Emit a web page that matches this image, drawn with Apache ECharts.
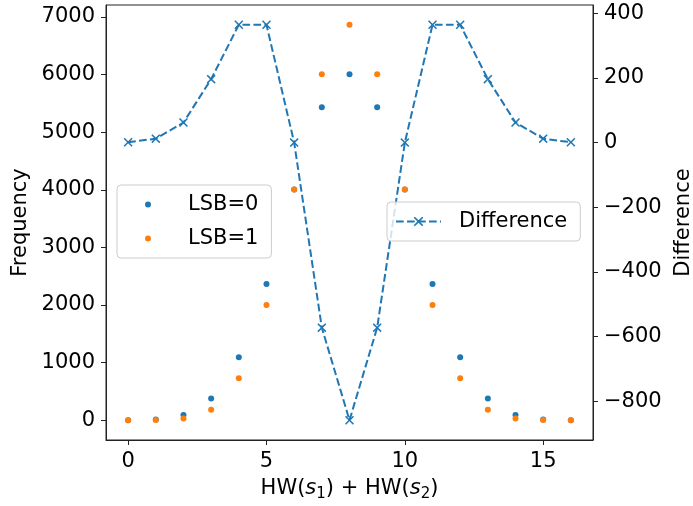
<!DOCTYPE html>
<html>
<head>
<meta charset="utf-8">
<script src="https://cdn.jsdelivr.net/npm/echarts@6.0.0/dist/echarts.min.js"></script>
<style>
  html, body { margin: 0; padding: 0; background: #fff; }
  #chart { width: 693px; height: 506px; }
</style>
</head>
<body>
<div id="chart"></div>
<script>
// HW(s1) + HW(s2)
const hwSum = [0, 1, 2, 3, 4, 5, 6, 7, 8, 9, 10, 11, 12, 13, 14, 15, 16]
const lsb0 = [1, 14, 91, 378, 1092, 2366, 4004, 5434, 6006, 5434, 4004, 2366, 1092, 378, 91, 14, 1]
const lsb1 = [0, 2, 29, 182, 728, 2002, 4004, 6006, 6864, 6006, 4004, 2002, 728, 182, 29, 2, 0]
const difference = [1, 12, 62, 196, 364, 364, 0, -572, -858, -572, 0, 364, 364, 196, 62, 12, 1]

const xTicks = [0, 5, 10, 15]
const freqTicks = [0, 1000, 2000, 3000, 4000, 5000, 6000, 7000]
const diffTicks = [-800, -600, -400, -200, 0, 200, 400]

const blue = '#1f77b4'
const orange = '#ff7f0e'
const ink = '#000'
const spine = '#222'
const font = 'DejaVu Sans'
const crossPath = 'path://M0,1.2L1.2,0L5,3.8L8.8,0L10,1.2L6.2,5L10,8.8L8.8,10L5,6.2L1.2,10L0,8.8L3.8,5Z'

function pairs(ys) {
  return hwSum.map((x, i) => [x, ys[i]])
}

function valueAxis(opts) {
  const ticks = opts.ticks
  return Object.assign({
    type: 'value',
    scale: true,
    axisLine: { show: true, onZero: false, lineStyle: { color: spine, width: 1 } },
    axisTick: { show: true, length: 5, customValues: ticks, lineStyle: { color: spine, width: 1 } },
    axisLabel: {
      customValues: ticks,
      margin: opts.margin,
      color: ink,
      fontFamily: font,
      fontSize: 21,
      formatter: v => String(v).replace('-', '\u2212')
    },
    splitLine: { show: false },
    nameTextStyle: { color: ink, fontFamily: font, fontSize: 21 }
  }, opts.extra)
}

// spacer token in front of the name pushes the text away from the icon
function legendBox(gap) {
  return {
    orient: 'vertical',
    backgroundColor: 'rgba(255,255,255,0.8)',
    borderColor: '#cccccc',
    borderWidth: 1,
    borderRadius: 4,
    formatter: name => '{g| }{t|' + name + '}',
    textStyle: {
      color: ink,
      fontFamily: font,
      fontSize: 21,
      rich: {
        g: { width: gap, fontSize: 21 },
        t: { color: ink, fontFamily: font, fontSize: 21 }
      }
    }
  }
}

const chart = echarts.init(document.getElementById('chart'), null, { renderer: 'canvas' })
chart.setOption({
  animation: false,
  backgroundColor: '#fff',
  grid: {
    left: 106,
    right: 100,
    top: 5,
    bottom: 66,
    show: true,
    borderColor: spine,
    borderWidth: 1,
    backgroundColor: 'transparent',
    outerBoundsMode: 'none'
  },
  legend: [
    Object.assign(legendBox(32), {
      data: ['LSB=0', 'LSB=1'],
      left: 117,
      top: 185,
      padding: [9, 13, 9, 28],
      itemWidth: 6,
      itemHeight: 6,
      itemGap: 13
    }),
    Object.assign(legendBox(13), {
      data: ['Difference'],
      left: 387,
      top: 202,
      padding: [9, 13, 9, 8],
      itemWidth: 45,
      itemHeight: 12
    })
  ],
  xAxis: valueAxis({
    ticks: xTicks,
    margin: 11,
    extra: {
      min: -0.8,
      max: 16.8,
      name: '{n|HW(}{i|s}{s|1}{n|) + HW(}{i|s}{s|2}{n|)}',
      nameLocation: 'middle',
      nameGap: 38,
      nameTextStyle: {
        color: ink,
        fontFamily: font,
        fontSize: 21,
        rich: {
          n: { fontFamily: font, fontSize: 21, color: ink, lineHeight: 24, verticalAlign: 'top' },
          i: { fontFamily: font, fontSize: 21, fontStyle: 'italic', color: ink, lineHeight: 24, verticalAlign: 'top' },
          s: { fontFamily: font, fontSize: 15, color: ink, lineHeight: 15, verticalAlign: 'top', padding: [9, 0, 0, 0] }
        }
      }
    }
  }),
  yAxis: [
    valueAxis({
      ticks: freqTicks,
      margin: 11,
      extra: {
        position: 'left',
        min: -343.2,
        max: 7207.2,
        name: 'Frequency',
        nameLocation: 'middle',
        nameRotate: 90,
        nameGap: 72
      }
    }),
    valueAxis({
      ticks: diffTicks,
      margin: 11,
      extra: {
        position: 'right',
        min: -919.1,
        max: 425.1,
        name: 'Difference',
        nameLocation: 'middle',
        nameRotate: 90,
        nameGap: 76
      }
    })
  ],
  series: [
    {
      name: 'LSB=0',
      type: 'scatter',
      symbol: 'circle',
      symbolSize: 6,
      itemStyle: { color: blue, opacity: 1 },
      data: pairs(lsb0)
    },
    {
      name: 'LSB=1',
      type: 'scatter',
      symbol: 'circle',
      symbolSize: 6,
      itemStyle: { color: orange, opacity: 1 },
      data: pairs(lsb1)
    },
    {
      name: 'Difference',
      type: 'line',
      yAxisIndex: 1,
      symbol: crossPath,
      symbolSize: 9,
      showAllSymbol: true,
      itemStyle: { color: blue },
      lineStyle: { color: blue, width: 2, type: [7.7, 3.3] },
      data: pairs(difference)
    }
  ]
})
</script>
</body>
</html>
